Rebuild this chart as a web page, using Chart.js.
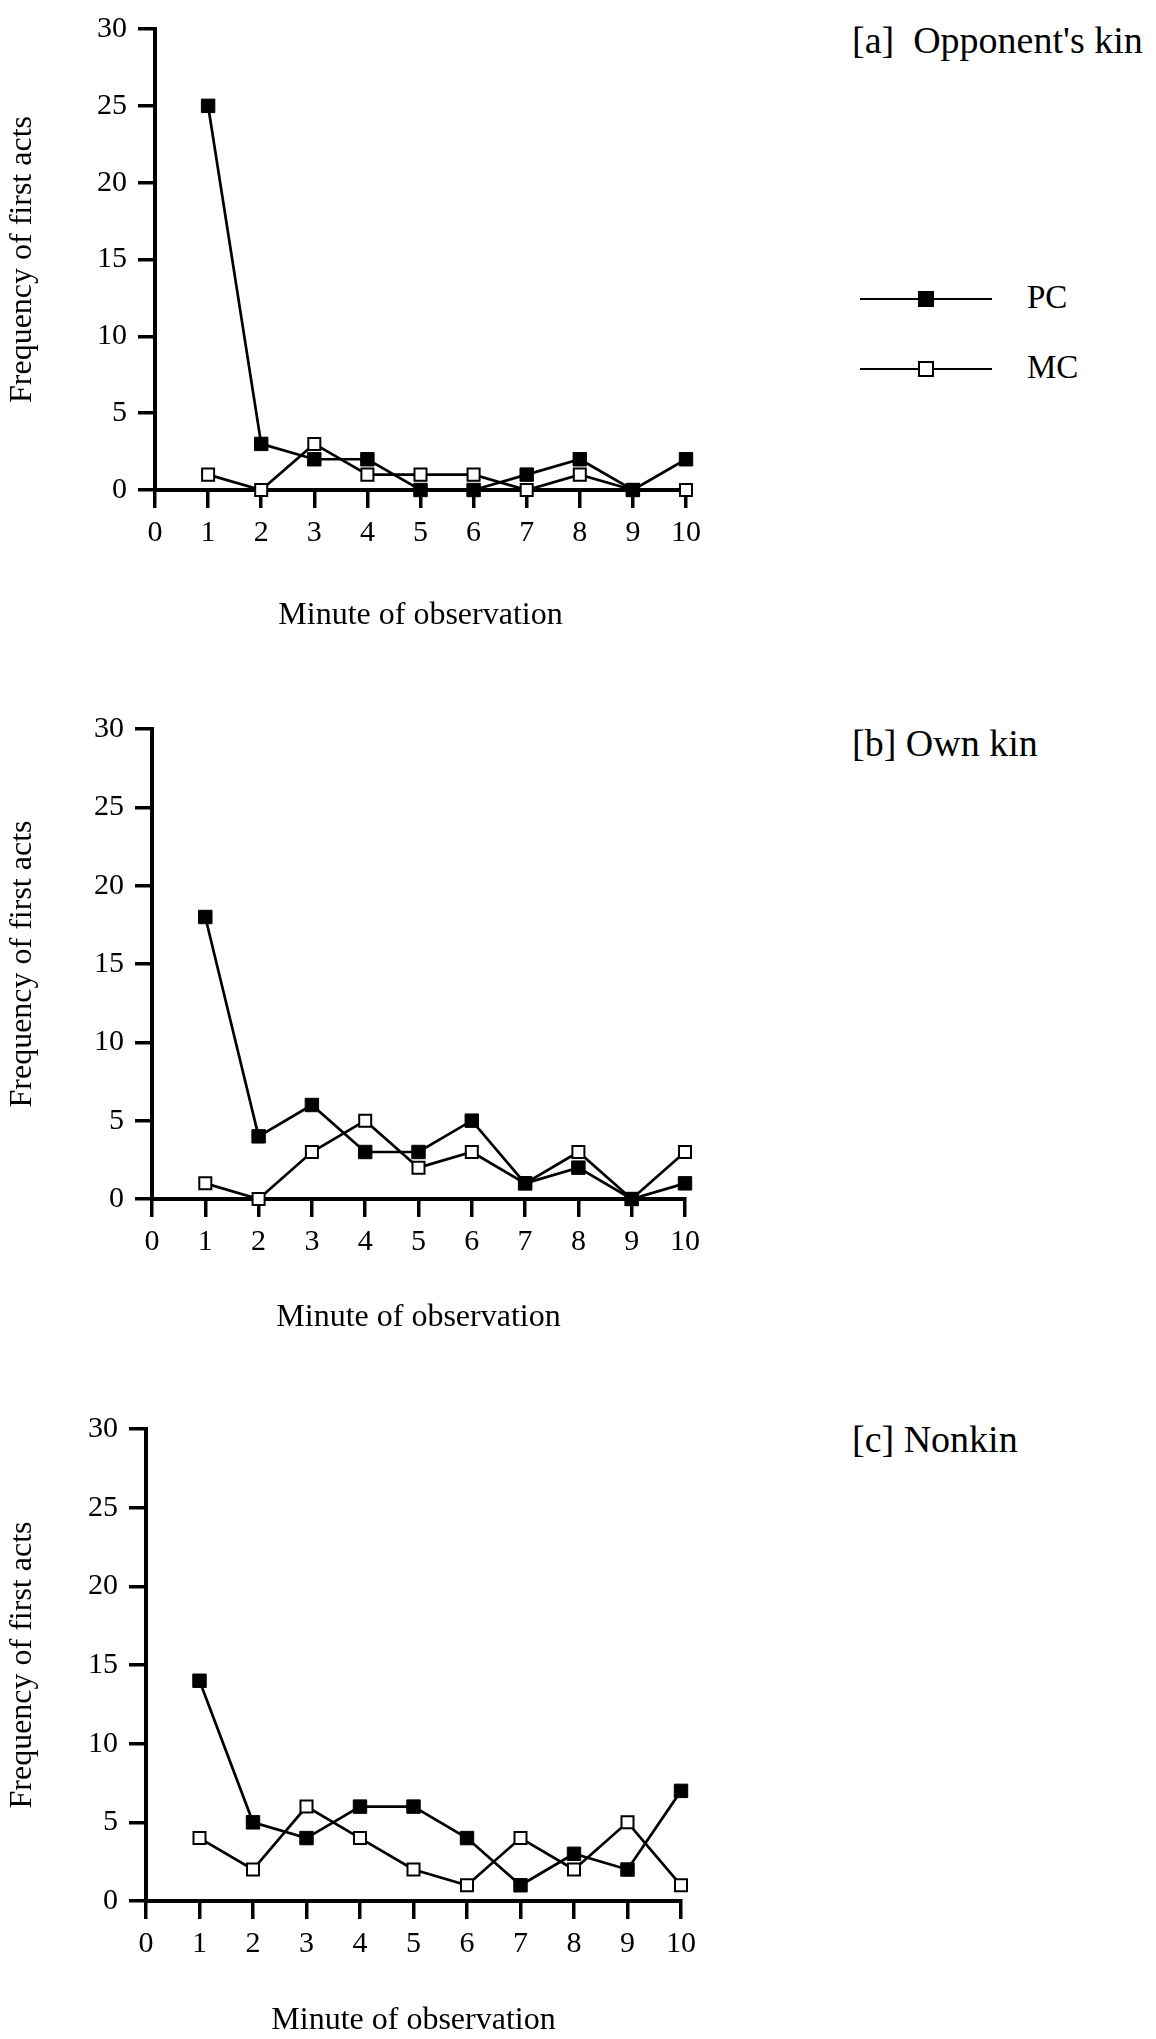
<!DOCTYPE html>
<html>
<head>
<meta charset="utf-8">
<title>Frequency of first acts</title>
<script src="https://cdn.jsdelivr.net/npm/chart.js@4.4.1/dist/chart.umd.min.js"></script>
<style>
  body {
    margin: 0;
    width: 1156px;
    height: 2039px;
    overflow: hidden;
    position: relative;
    background: #fff;
    color: #000;
    font-family: "Liberation Serif", "Times New Roman", serif;
  }
  canvas { position: absolute; left: 0; }
  .panel-label {
    position: absolute;
    left: 852px;
    font-size: 38px;
    line-height: 38px;
    white-space: pre;
  }
  .legend-row { position: absolute; left: 860px; width: 260px; height: 40px; }
  .legend-row .line { position: absolute; left: 0; width: 132px; height: 2px; background: #000; top: 19px; }
  .legend-row .mark { position: absolute; left: 58px; top: 12px; width: 16px; height: 16px; box-sizing: border-box; border: 2px solid #000; }
  .legend-row .name { position: absolute; left: 167px; top: 2px; font-size: 33px; line-height: 33px; }
</style>
</head>
<body>
<canvas id="chartA" width="720" height="635"></canvas>
<canvas id="chartB" width="720" height="637"></canvas>
<canvas id="chartC" width="720" height="640"></canvas>
<div id="labels"></div>
<script>
// minutes 1..10
const minutes = [1, 2, 3, 4, 5, 6, 7, 8, 9, 10];
const seriesNames = ["PC", "MC"];
const panelTitles = ["[a]  Opponent's kin", "[b] Own kin", "[c] Nonkin"];
const xTitle = "Minute of observation";
const yTitle = "Frequency of first acts";

const opponentKinPC = [25, 3, 2, 2, 0, 0, 1, 2, 0, 2];
const opponentKinMC = [1, 0, 3, 1, 1, 1, 0, 1, 0, 0];
const ownKinPC = [18, 4, 6, 3, 3, 5, 1, 2, 0, 1];
const ownKinMC = [1, 0, 3, 5, 2, 3, 1, 3, 0, 3];
const nonkinPC = [14, 5, 4, 6, 6, 4, 1, 3, 2, 7];
const nonkinMC = [4, 2, 6, 4, 2, 1, 4, 2, 5, 1];

const xMin = 0, xMax = 10, xStep = 1;
const yMin = 0, yMax = 30, yStep = 5;

const FONT = "'Liberation Serif', 'Times New Roman', serif";

// page layout (pixels), one entry per panel
const panels = [
  { id: "chartA", top: 0, height: 635, axisLeft: 155, axisRight: 686, axisTop: 23, axisBottom: 490,
    pc: opponentKinPC, mc: opponentKinMC, title: panelTitles[0], titleTop: 21 },
  { id: "chartB", top: 700, height: 637, axisLeft: 152, axisRight: 685, axisTop: 724, axisBottom: 1199,
    pc: ownKinPC, mc: ownKinMC, title: panelTitles[1], titleTop: 724 },
  { id: "chartC", top: 1400, height: 640, axisLeft: 146, axisRight: 681, axisTop: 1426, axisBottom: 1901,
    pc: nonkinPC, mc: nonkinMC, title: panelTitles[2], titleTop: 1420 },
];

function toPoints(values) {
  return minutes.map((m, i) => ({ x: m, y: values[i] }));
}

function axisStyle() {
  return {
    grid: { drawOnChartArea: false, drawTicks: true, tickLength: 18, tickWidth: 3.5, tickColor: "#000", lineWidth: 3.5, color: "#000" },
    border: { display: true, color: "#000", width: 4 },
  };
}

function buildChart(p) {
  const canvas = document.getElementById(p.id);
  canvas.style.top = p.top + "px";
  const W = canvas.width;

  new Chart(canvas, {
    type: "line",
    data: {
      datasets: [
        {
          label: seriesNames[0],
          data: toPoints(p.pc),
          borderColor: "#000",
          borderWidth: 2.7,
          pointStyle: "rect",
          pointRadius: 9.5,
          pointBackgroundColor: "#000",
          pointBorderColor: "#000",
          pointBorderWidth: 1,
          tension: 0,
          clip: false,
        },
        {
          label: seriesNames[1],
          data: toPoints(p.mc),
          borderColor: "#000",
          borderWidth: 2.7,
          pointStyle: "rect",
          pointRadius: 8.5,
          pointBackgroundColor: "#fff",
          pointBorderColor: "#000",
          pointBorderWidth: 2,
          tension: 0,
          clip: false,
        },
      ],
    },
    options: {
      responsive: false,
      animation: false,
      devicePixelRatio: 1,
      events: [],
      layout: { padding: { top: p.axisTop - p.top, right: W - p.axisRight, bottom: 0, left: 0 } },
      plugins: { legend: { display: false }, tooltip: { enabled: false } },
      scales: {
        x: {
          type: "linear",
          min: xMin,
          max: xMax,
          ...axisStyle(),
          ticks: { stepSize: xStep, color: "#000", padding: 7, autoSkip: false, maxRotation: 0, font: { family: FONT, size: 30 } },
          title: { display: true, text: xTitle, color: "#000", padding: { top: 0, bottom: 0 }, font: { family: FONT, size: 32 } },
          afterFit: (s) => { s.height = p.height - (p.axisBottom - p.top); },
        },
        y: {
          type: "linear",
          min: yMin,
          max: yMax,
          ...axisStyle(),
          grid: { ...axisStyle().grid, tickLength: 17 },
          ticks: { stepSize: yStep, color: "#000", padding: 11, font: { family: FONT, size: 30 } },
          title: { display: true, text: yTitle, color: "#000", padding: { top: 3, bottom: 0 }, font: { family: FONT, size: 32 } },
          afterFit: (s) => { s.width = p.axisLeft; },
        },
      },
    },
  });
}

panels.forEach(buildChart);

// panel titles and the legend of panel [a]
const labels = document.getElementById("labels");
panels.forEach((p) => {
  const d = document.createElement("div");
  d.className = "panel-label";
  d.style.top = p.titleTop + "px";
  d.textContent = p.title;
  labels.appendChild(d);
});

const legendTops = [279, 349];
seriesNames.forEach((name, i) => {
  const row = document.createElement("div");
  row.className = "legend-row";
  row.style.top = legendTops[i] + "px";
  row.innerHTML = '<div class="line"></div><div class="mark"></div><div class="name"></div>';
  row.querySelector(".mark").style.background = i === 0 ? "#000" : "#fff";
  row.querySelector(".name").textContent = name;
  labels.appendChild(row);
});
</script>
</body>
</html>
